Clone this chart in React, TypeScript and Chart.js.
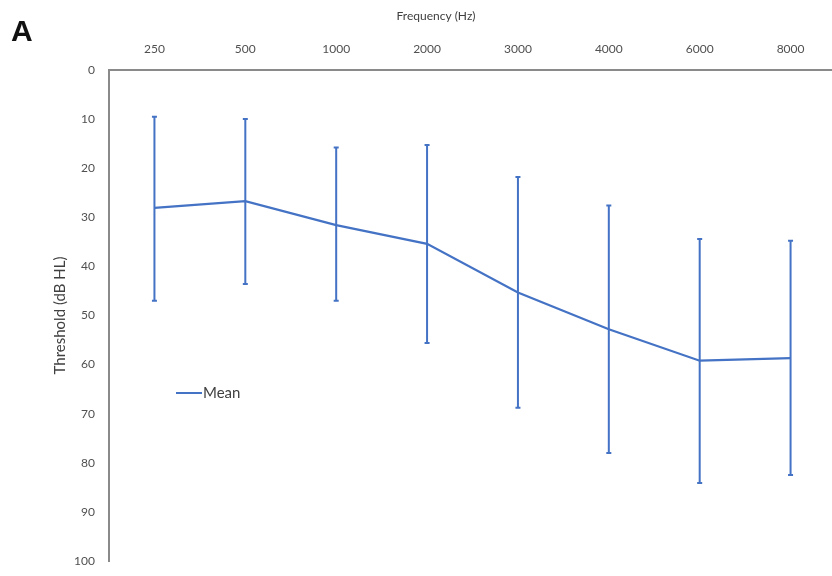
import React, { useEffect, useRef } from "react";
import { Chart, registerables } from "chart.js";

Chart.register(...registerables);

const frequencies = ["250", "500", "1000", "2000", "3000", "4000", "6000", "8000"];
const meanThreshold = [28.1, 26.7, 31.6, 35.4, 45.3, 52.8, 59.2, 58.7];
const errorTop = [9.5, 10.0, 15.8, 15.3, 21.8, 27.6, 34.4, 34.8];
const errorBottom = [47.0, 43.6, 47.0, 55.6, 68.8, 78.0, 84.1, 82.5];

const xTitle = "Frequency (Hz)";
const yTitle = "Threshold (dB HL)";
const legendLabel = "Mean";
const panelLetter = "A";

const BLUE = "#4472C4";
const TEXT = "#505050";
const FONT = "Lato, 'Open Sans', sans-serif";

const errorBarPlugin = {
  id: "errorBars",
  afterDatasetsDraw(chart: any) {
    const ctx = chart.ctx;
    const x = chart.scales.x;
    const y = chart.scales.y;
    ctx.save();
    ctx.strokeStyle = BLUE;
    ctx.lineWidth = 2;
    frequencies.forEach((_, i) => {
      const px = x.getPixelForValue(i);
      const t = y.getPixelForValue(errorTop[i]);
      const b = y.getPixelForValue(errorBottom[i]);
      ctx.beginPath();
      ctx.moveTo(px, t);
      ctx.lineTo(px, b);
      ctx.moveTo(px - 2.5, t);
      ctx.lineTo(px + 2.5, t);
      ctx.moveTo(px - 2.5, b);
      ctx.lineTo(px + 2.5, b);
      ctx.stroke();
    });
    ctx.restore();
  },
  afterDraw(chart: any) {
    const ctx = chart.ctx;
    ctx.save();
    ctx.fillStyle = "#404040";
    ctx.font = "12px " + FONT;
    ctx.textAlign = "center";
    ctx.textBaseline = "middle";
    ctx.fillText(xTitle, 436, 16);
    // legend
    ctx.strokeStyle = BLUE;
    ctx.lineWidth = 2;
    ctx.beginPath();
    ctx.moveTo(176, 393);
    ctx.lineTo(202, 393);
    ctx.stroke();
    ctx.font = "15px " + FONT;
    ctx.textAlign = "left";
    ctx.fillText(legendLabel, 203, 393);
    // panel letter
    ctx.fillStyle = "#111";
    ctx.font = "bold 30px 'Liberation Sans', Arial, sans-serif";
    ctx.textBaseline = "alphabetic";
    ctx.fillText(panelLetter, 11, 41);
    ctx.restore();
  },
};

export default function App() {
  const ref = useRef<HTMLCanvasElement | null>(null);
  useEffect(() => {
    document.body.style.margin = "0";
    const chart = new Chart(ref.current as HTMLCanvasElement, {
      type: "line",
      data: {
        labels: frequencies,
        datasets: [
          {
            label: legendLabel,
            data: meanThreshold,
            borderColor: BLUE,
            backgroundColor: BLUE,
            borderWidth: 2.2,
            pointRadius: 0,
            tension: 0,
          },
        ],
      },
      options: {
        responsive: false,
        animation: false,
        layout: { padding: { left: 51, top: 0, right: 0, bottom: 15 } },
        plugins: {
          legend: { display: false },
          tooltip: { enabled: false },
        },
        scales: {
          x: {
            position: "top",
            offset: true,
            grid: { display: false, drawTicks: false },
            border: { display: true, color: "#8a8a8a", width: 2 },
            ticks: { color: TEXT, font: { family: FONT, size: 12 }, padding: 14, maxRotation: 0 },
            afterFit(s: any) {
              s.height = 70;
              s.paddingLeft = 0;
              s.paddingRight = 0;
            },
          },
          y: {
            reverse: true,
            min: 0,
            max: 100,
            grid: { display: false, drawTicks: false },
            border: { display: true, color: "#8a8a8a", width: 2 },
            ticks: { stepSize: 10, color: TEXT, font: { family: FONT, size: 12 }, padding: 14 },
            title: {
              display: true,
              text: yTitle,
              color: "#404040",
              font: { family: FONT, size: 15 },
              padding: { top: 0, bottom: 0 },
            },
            afterFit(s: any) {
              s.width = 58;
              s.paddingTop = 0;
              s.paddingBottom = 0;
            },
          },
        },
      },
      plugins: [errorBarPlugin],
    });
    return () => chart.destroy();
  }, []);
  return (
    <div style={{ width: 832, height: 576, background: "#fff", overflow: "hidden" }}>
      <canvas ref={ref} width={836} height={576} style={{ display: "block" }} />
    </div>
  );
}
